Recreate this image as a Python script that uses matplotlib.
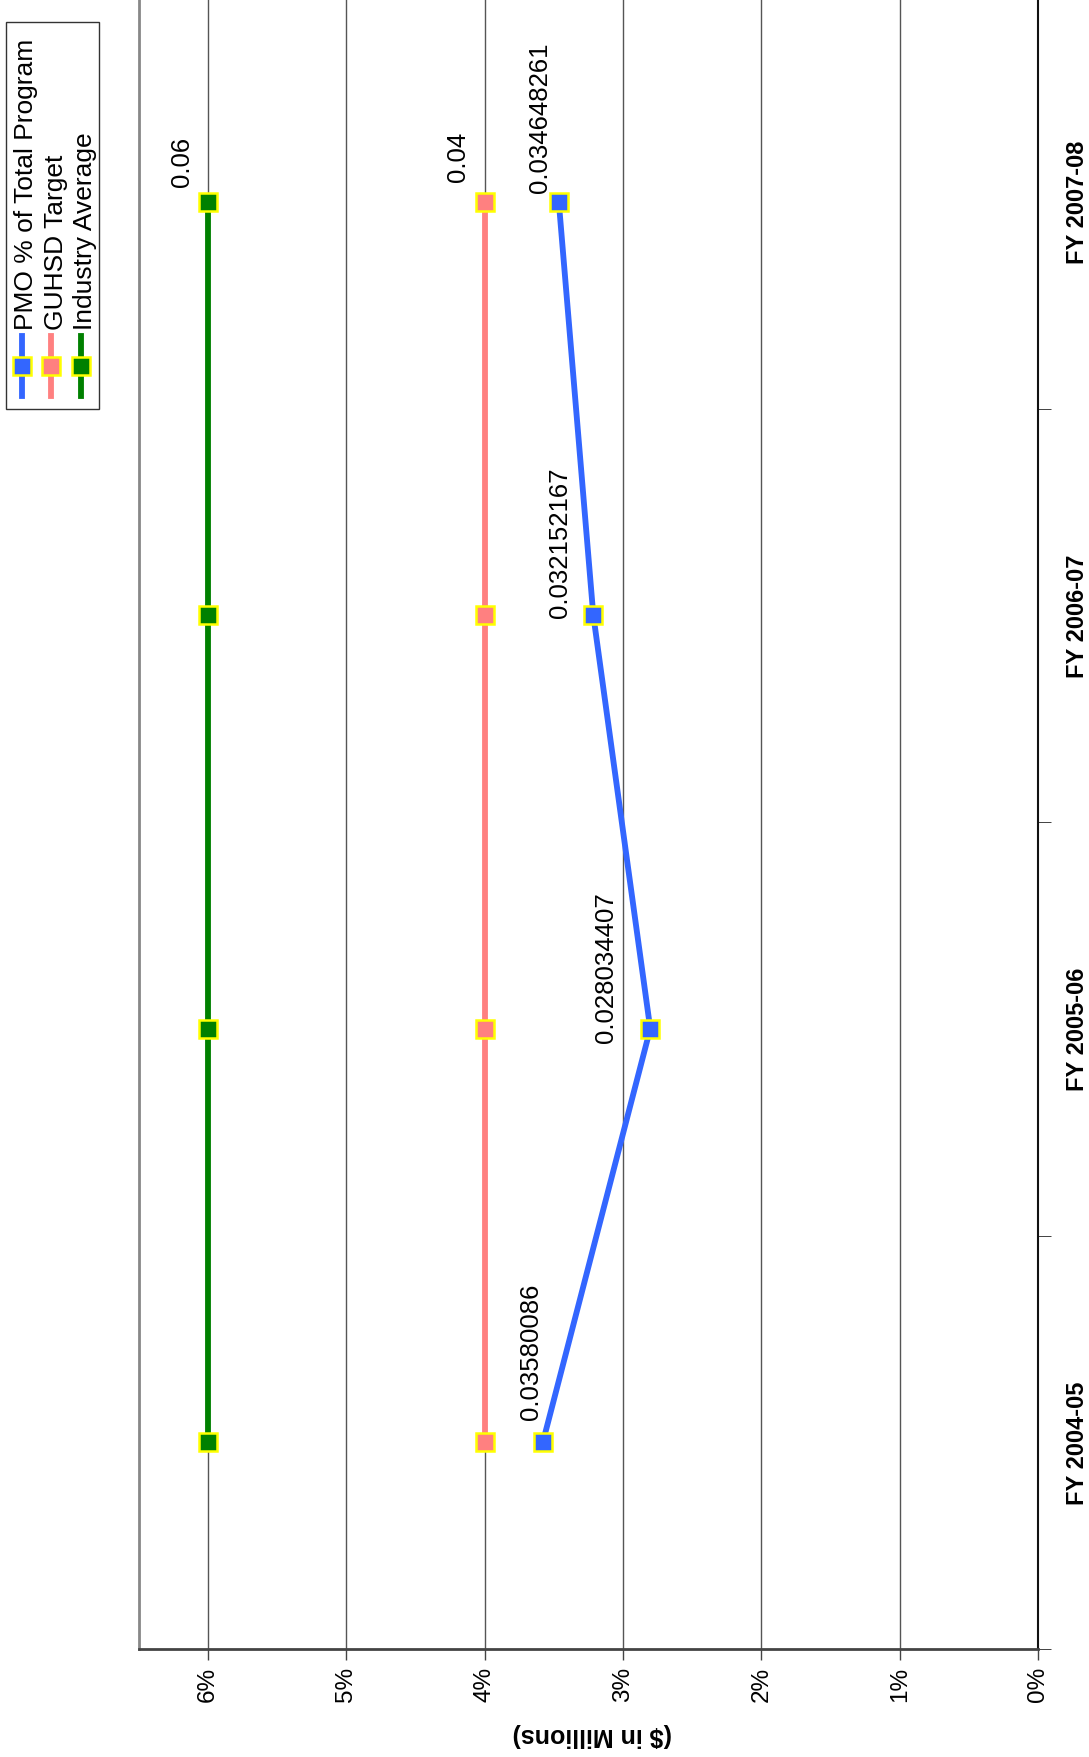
import matplotlib
matplotlib.use('Agg')
import matplotlib.pyplot as plt
from matplotlib.lines import Line2D
from matplotlib.patches import Rectangle

plt.rcParams['font.family'] = ['Liberation Sans', 'DejaVu Sans']

W, H = 1089, 1758

categories = ['FY 2004-05', 'FY 2005-06', 'FY 2006-07', 'FY 2007-08']
series_names = ['PMO % of Total Program', 'GUHSD Target', 'Industry Average']
pmo = [0.03580086, 0.028034407, 0.032152167, 0.034648261]
target = [0.04, 0.04, 0.04, 0.04]
industry = [0.06, 0.06, 0.06, 0.06]
pct_ticks = [0.0, 0.01, 0.02, 0.03, 0.04, 0.05, 0.06]
pct_labels = ['0%', '1%', '2%', '3%', '4%', '5%', '6%']
axis_label = '($ in Millions)'

colors = ['#3366FF', '#FF8080', '#008000']
edge = '#FFFF00'

fig = plt.figure(figsize=(W / 100, H / 100), dpi=100)
ax = fig.add_axes([139 / W, 1 - 1650 / H, (1038 - 139) / W, 1654 / H])
ax.set_xlim(0.065, 0)
ax.set_ylim(-0.5, 3.5)

ypos = list(range(len(categories)))
all_series = [pmo, target, industry]
for vals, c in zip(all_series[::-1], colors[::-1]):
    ax.plot(vals, ypos, color=c, lw=4.2, marker='s', ms=13, mfc=c, mec=edge,
            mew=1.8, zorder=3, clip_on=False, solid_capstyle='butt')

ax.set_axisbelow(True)
ax.xaxis.grid(True, color='#555555', lw=1)
ax.set_xticks(pct_ticks)
ax.set_xticklabels(pct_labels, rotation=90, fontsize=17.5)
ax.tick_params(axis='x', direction='out', length=8, width=1, color='#444444', pad=4)

ax.yaxis.tick_right()
ax.set_yticks(ypos)
ax.set_yticklabels(categories, rotation=90, fontsize=17, fontweight='bold', va='center')
ax.set_yticks([-0.5, 0.5, 1.5, 2.5, 3.5], minor=True)
ax.tick_params(axis='y', which='major', length=0, pad=20)
ax.tick_params(axis='y', which='minor', length=9, direction='out', right=True,
               left=False, color='#222222')

ax.spines['top'].set_visible(False)
ax.spines['left'].set_color('#888888')
ax.spines['left'].set_linewidth(2)
ax.spines['bottom'].set_color('#444444')
ax.spines['bottom'].set_linewidth(2)
ax.spines['right'].set_color('#111111')
ax.spines['right'].set_linewidth(1.5)

# data labels
pmo_offsets = [(-5, 23), (-37, -13), (-26, -2), (-12, 10)]
for i, v in enumerate(pmo):
    ax.annotate(repr(v), (v, ypos[i]), xytext=pmo_offsets[i], textcoords='offset pixels',
                rotation=90, rotation_mode='anchor', ha='left', va='baseline',
                fontsize=18.5, zorder=4)
ax.annotate(repr(target[-1]), (target[-1], ypos[-1]), xytext=(-20, 21),
            textcoords='offset pixels', rotation=90, rotation_mode='anchor',
            ha='left', va='baseline', fontsize=18.5)
ax.annotate(repr(industry[-1]), (industry[-1], ypos[-1]), xytext=(-19, 16),
            textcoords='offset pixels', rotation=90, rotation_mode='anchor',
            ha='left', va='baseline', fontsize=18.5)

fig.text(592 / W, 1 - 1735 / H, axis_label, rotation=180, ha='center', va='center',
         fontsize=18, fontweight='bold')

# legend (rotated)
fig.add_artist(Rectangle((6 / W, 1 - 410 / H), 93 / W, 387 / H, transform=fig.transFigure,
                         fc='white', ec='#333333', lw=1, zorder=5))
for k, (name, c) in enumerate(zip(series_names, colors)):
    x = 22 + k * 29.5
    fig.add_artist(Line2D([x / W, x / W], [1 - 337 / H, 1 - 397 / H], transform=fig.transFigure,
                          color=c, lw=4.2, zorder=6))
    fig.add_artist(Line2D([x / W], [1 - 367 / H], transform=fig.transFigure, marker='s',
                          ms=13, mfc=c, mec=edge, mew=1.8, ls='none', zorder=7))
    fig.text((x + 11) / W, 1 - 330 / H, name, rotation=90, rotation_mode='anchor',
             ha='left', va='baseline', fontsize=19, zorder=7)

fig.savefig('out.png', dpi=100)
